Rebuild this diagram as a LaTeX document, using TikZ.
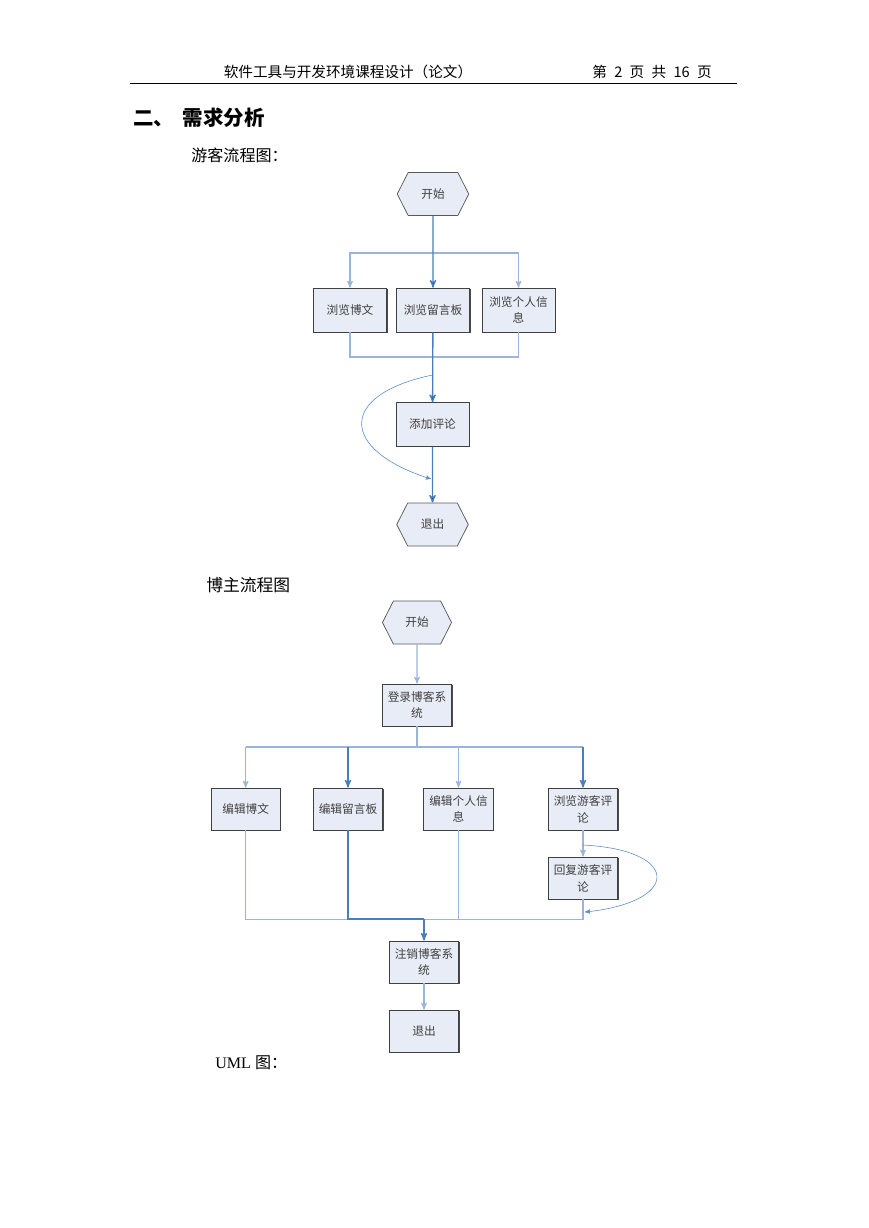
\documentclass[tikz,border=0pt]{standalone}
\usepackage{fontspec}
\setmainfont{Liberation Serif}
\newfontfamily\cjk{Noto Sans CJK SC}
\usetikzlibrary{arrows,shapes,shadows}

\definecolor{boxfill}{HTML}{E8ECF6}
\definecolor{mainblue}{HTML}{4A7EBB}
\definecolor{lightblue}{HTML}{9BB5DA}

\begin{document}
\begin{tikzpicture}[x=0.6847pt,y=-0.6847pt,>=stealth',semithick,
    box/.style={draw=black!75,fill=boxfill,line width=0.5pt,align=center,inner sep=1pt,
        minimum width=50pt,minimum height=30pt,text=black!75,font=\cjk\fontsize{8}{11.5}\selectfont,
        general shadow={fill=black!70,shadow xshift=0.7pt,shadow yshift=-0.7pt}},
    smallbox/.style={box,minimum width=47.5pt,minimum height=28.8pt},
    hexa/.style={signal,signal to=west and east,signal pointer angle=126,draw=black!65,
        fill=boxfill,line width=0.5pt,minimum width=49pt,minimum height=29.4pt,inner sep=1pt,
        text=black!75,font=\cjk\fontsize{8}{11.5}\selectfont},
    mainline/.style={draw=mainblue,line width=0.9pt},
    subline/.style={draw=lightblue,line width=0.7pt},
    loopline/.style={draw=mainblue!90,line width=0.4pt}]
    \useasboundingbox (0,0) rectangle (869,1228);
    % page head
    \node[font=\cjk\fontsize{10}{12}\selectfont](head)at(348, 72){软件工具与开发环境课程设计（论文）};
    \node[font=\cjk\fontsize{10}{12}\selectfont](page)at(652, 72){第\hspace{5pt}2\hspace{5pt}页\hspace{5pt}共\hspace{5pt}16\hspace{5pt}页};
    \coordinate (ruleL) at (130, 83);
    \coordinate (ruleR) at (737, 83);
    \draw[line width=0.6pt] (ruleL) -- (ruleR);
    \node[anchor=west,font=\cjk\bfseries\fontsize{14}{16}\selectfont](sec)at(128, 118){二、\hspace{6pt}需求分析};
    \node[anchor=west,font=\cjk\fontsize{11}{13}\selectfont](cap1)at(186, 155){游客流程图：};

    % visitor flow
    \node[hexa](start1)at(433, 194){开始};
    \node[box](view1)at(350, 310){浏览博文};
    \node[box](view2)at(433, 310){浏览留言板};
    \node[box](view3)at(518.5, 310){浏览个人信\\息};
    \node[box](addc)at(432.5, 424.5){添加评论};
    \node[hexa](exit1)at(432.5, 524.5){退出};
    \coordinate (split1) at (433, 253);
    \coordinate (merge1) at (433, 357);
    \coordinate (loopa) at (432.5, 375);
    \coordinate (loopb) at (431, 479);
    \draw[subline,->] (split1) -| (view1);
    \draw[subline,->] (split1) -| (view3);
    \draw[subline] (view1) |- (merge1);
    \draw[subline] (view3) |- (merge1);
    \path[mainline,->] (start1) edge (view2)
        (view2) edge (addc)
        (addc) edge (exit1);
    \draw[loopline,->] (loopa) .. controls (337,395) and (340,450) .. (loopb);

    % blogger flow
    \node[anchor=west,font=\cjk\fontsize{11.5}{13}\selectfont](cap2)at(201, 585){博主流程图};
    \node[hexa,minimum width=47.3pt](start2)at(417, 622.5){开始};
    \node[smallbox](login)at(417, 705){登录博客系\\统};
    \node[smallbox](edit1)at(245.7, 809){编辑博文};
    \node[smallbox](edit2)at(348, 809){编辑留言板};
    \node[smallbox](edit3)at(458.5, 809){编辑个人信\\息};
    \node[smallbox](browse)at(583, 809){浏览游客评\\论};
    \node[smallbox](reply)at(583, 878){回复游客评\\论};
    \node[smallbox](logout)at(424, 962){注销博客系\\统};
    \node[smallbox](exit2)at(424, 1031){退出};
    \coordinate (split2) at (417, 747);
    \coordinate (merge2) at (424, 919);
    \coordinate (loopc) at (583, 845);
    \coordinate (loopd) at (585, 912);
    \draw[subline,->] (start2) -- (login);
    \draw[subline] (login) -- (split2);
    \draw[subline] (edit1 |- split2) -- (browse |- split2);
    \draw[subline,->] (edit1 |- split2) -- (edit1);
    \draw[mainline,->] (edit2 |- split2) -- (edit2);
    \draw[subline,->] (edit3 |- split2) -- (edit3);
    \draw[mainline,->] (browse |- split2) -- (browse);
    \draw[subline,->] (browse) -- (reply);
    \draw[subline] (edit1) |- (merge2);
    \draw[mainline] (edit2) |- (merge2);
    \draw[subline] (edit3) |- (merge2);
    \draw[subline] (reply) |- (merge2);
    \draw[loopline,->] (loopc) .. controls (681,850) and (681,902) .. (loopd);
    \draw[mainline,->] (merge2) -- (logout);
    \draw[subline,->] (logout) -- (exit2);
    \node[anchor=west,font=\fontsize{11}{13}\selectfont](cap3)at(210, 1063){UML {\cjk 图：}};
\end{tikzpicture}
\end{document}
